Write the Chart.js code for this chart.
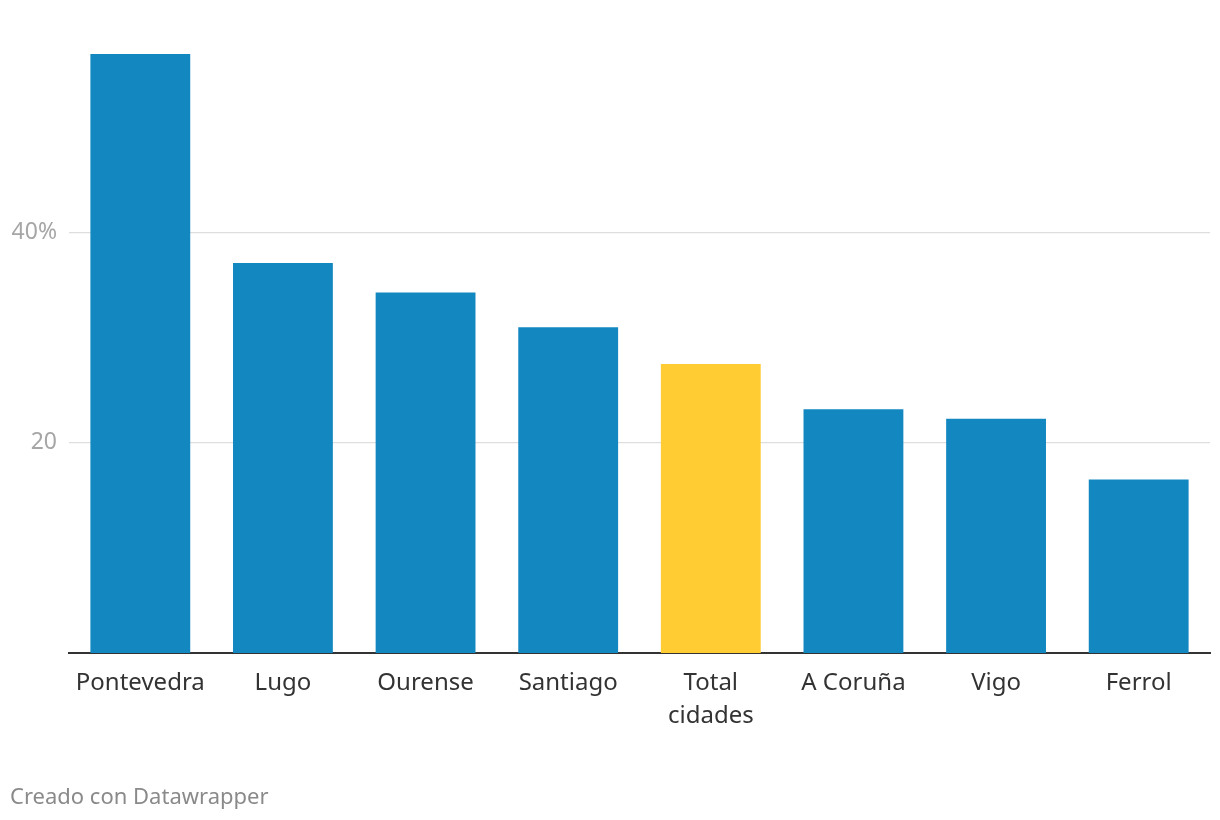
<!DOCTYPE html>
<html lang="gl">
<head>
<meta charset="utf-8">
<script src="https://cdn.jsdelivr.net/npm/chart.js"></script>
<style>
  html, body { margin: 0; padding: 0; background: #fff; }
  #wrap { position: relative; width: 1220px; height: 820px; }
  #footer {
    position: absolute; left: 10px; top: 780px;
    font-family: "Noto Sans", sans-serif; font-size: 22px; color: #8a8a8a;
  }
</style>
</head>
<body>
<div id="wrap">
  <canvas id="chart" width="1220" height="820"></canvas>
  <div id="footer">Creado con Datawrapper</div>
</div>
<script>
  const categories = ["Pontevedra", "Lugo", "Ourense", "Santiago", ["Total", "cidades"], "A Coruña", "Vigo", "Ferrol"];
  const values = [57.0, 37.1, 34.3, 31.0, 27.5, 23.2, 22.3, 16.5];
  const yTicks = [20, 40];
  const blue = "#1387c0";
  const yellow = "#ffcc33";

  const ctx = document.getElementById("chart").getContext("2d");
  new Chart(ctx, {
    type: "bar",
    data: {
      labels: categories,
      datasets: [{
        data: values,
        backgroundColor: values.map((v, i) => i === 4 ? yellow : blue),
        borderWidth: 0,
        barPercentage: 0.7,
        categoryPercentage: 1.0,
      }],
    },
    options: {
      responsive: false,
      animation: false,
      layout: { padding: { top: 54, right: 10, left: 0, bottom: 0 } },
      plugins: { legend: { display: false }, tooltip: { enabled: false } },
      scales: {
        x: {
          grid: { display: false },
          border: { display: true, color: "#333333", width: 2 },
          ticks: {
            color: "#333333",
            padding: 6,
            maxRotation: 0,
            autoSkip: false,
            font: { family: "Noto Sans", size: 24, lineHeight: 1.375 },
          },
          afterFit(scale) { scale.height = 167; },
        },
        y: {
          min: 0,
          max: 57,
          border: { display: false },
          grid: { color: "#dedede", lineWidth: 1.2, drawTicks: false },
          afterBuildTicks(scale) { scale.ticks = yTicks.map(v => ({ value: v })); },
          ticks: {
            color: "#a6a6a6",
            padding: 12,
            font: { family: "Noto Sans", size: 23 },
            callback: (v) => v === 40 ? "40%" : String(v),
          },
          afterFit(scale) { scale.width = 69; },
        },
      },
    },
  });
</script>
</body>
</html>
